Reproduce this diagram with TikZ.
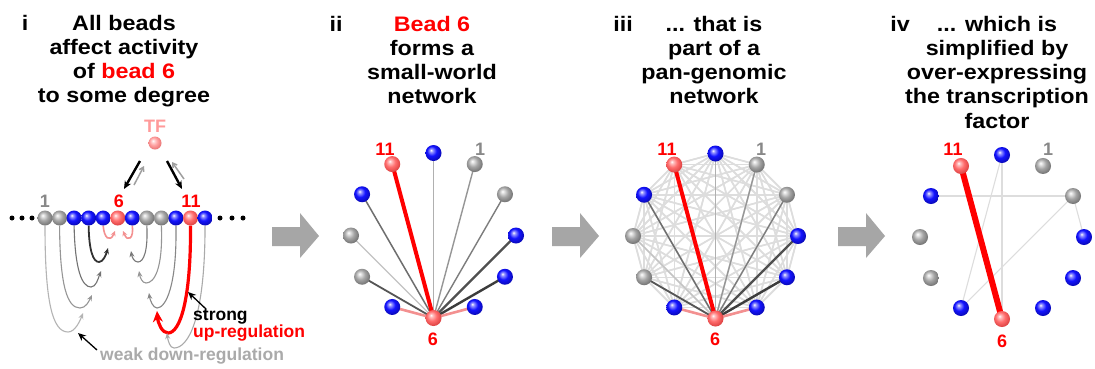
\documentclass[tikz,border=0pt]{standalone}
\usepackage{fontspec}
\setmainfont{Liberation Sans}
\newfontfamily\headfont{Liberation Sans}[FakeStretch=1.11]
\usetikzlibrary{arrows.meta,calc}
\definecolor{pinkc}{HTML}{F39090}
\definecolor{tfpink}{HTML}{FF9A9A}
\definecolor{labgray}{HTML}{888888}
\definecolor{weakgray}{HTML}{AAAAAA}
\definecolor{arrowgray}{HTML}{A6A6A6}
\definecolor{bgline}{HTML}{DDDDDD}
% bead colours
\definecolor{bA}{RGB}{150,150,255}
\definecolor{bB}{RGB}{20,20,255}
\definecolor{bC}{RGB}{10,10,190}
\definecolor{bD}{RGB}{10,10,120}
\definecolor{gA}{RGB}{225,225,225}
\definecolor{gB}{RGB}{165,165,165}
\definecolor{gC}{RGB}{120,120,120}
\definecolor{gD}{RGB}{90,90,90}
\definecolor{rA}{RGB}{255,190,190}
\definecolor{rB}{RGB}{255,110,110}
\definecolor{rC}{RGB}{225,70,70}
\definecolor{rD}{RGB}{170,40,40}
\definecolor{tA}{RGB}{255,215,215}
\definecolor{tB}{RGB}{255,160,160}
\definecolor{tC}{RGB}{235,120,120}
\definecolor{tD}{RGB}{200,90,90}
\pgfdeclareradialshading{bluebead}{\pgfqpoint{-8bp}{9bp}}{color(0bp)=(white); color(5bp)=(bA); color(15bp)=(bB); color(27bp)=(bC); color(38bp)=(bD); color(50bp)=(bD)}
\pgfdeclareradialshading{graybead}{\pgfqpoint{-8bp}{9bp}}{color(0bp)=(white); color(5bp)=(gA); color(15bp)=(gB); color(27bp)=(gC); color(38bp)=(gD); color(50bp)=(gD)}
\pgfdeclareradialshading{redbead}{\pgfqpoint{-8bp}{9bp}}{color(0bp)=(white); color(5bp)=(rA); color(15bp)=(rB); color(27bp)=(rC); color(38bp)=(rD); color(50bp)=(rD)}
\pgfdeclareradialshading{tfbead}{\pgfqpoint{-8bp}{9bp}}{color(0bp)=(white); color(5bp)=(tA); color(15bp)=(tB); color(27bp)=(tC); color(38bp)=(tD); color(50bp)=(tD)}
\pgfdeclarelayer{bg}
\pgfdeclarelayer{paper}
\pgfsetlayers{paper,bg,main}
\begin{document}
\begin{tikzpicture}[x=1pt,y=-1pt,
  head/.style={font=\headfont\bfseries\fontsize{21}{24.3}\selectfont, align=center, anchor=base, inner sep=0pt},
  numlab/.style={font=\bfseries\fontsize{18}{20}\selectfont, anchor=base, inner sep=0pt},
  annot/.style={font=\bfseries\fontsize{17.5}{20}\selectfont, anchor=base west, inner sep=0pt},
  ballbase/.style={circle, inner sep=0pt, minimum size=16pt, shade},
  bb/.style={ballbase, shading=bluebead},
  gb/.style={ballbase, shading=graybead},
  rb/.style={ballbase, shading=redbead},
  tfb/.style={ballbase, minimum size=13pt, shading=tfbead},
  dot/.style={circle, fill=black, inner sep=0pt, minimum size=5pt},
  arc/.style={line width=1.1pt, -{Stealth[length=6pt,width=5pt]}},
  annarrow/.style={line width=1.3pt, -{Stealth[length=8pt,width=7pt]}},
  tfarrow/.style={line width=2.4pt, -{Stealth[length=8pt,width=7pt]}},
  tfback/.style={line width=1.5pt, draw=gray!75, -{Straight Barb[length=4pt,width=5pt]}},
  blockarrow/.style={fill=arrowgray, draw=none},
  bgedge/.style={draw=bgline, line width=1.5pt},
  thinedge/.style={draw=bgline, line width=1.1pt}
]
\useasboundingbox (0,0) rectangle (1095,368);
\begin{pgfonlayer}{paper}
\fill[white] (0,0) rectangle (1095,368);
\end{pgfonlayer}

% ---------- headings (anchored at the baseline of the last line) ----------
\node[head] (ri) at (25,30) {i};
\node[head] (hi) at (124,102.9) {All beads\\affect activity\\of \textcolor{red}{bead 6}\\to some degree};
\node[head] (rii) at (336,31) {ii};
\node[head] (hii) at (432,103.9) {\textcolor{red}{Bead 6}\\forms a\\small-world\\network};
\node[head] (riii) at (623,31) {iii};
\node[head] (hiii) at (714,103.9) {... that is\\part of a\\pan-genomic\\network};
\node[head] (riv) at (900,31) {iv};
\node[head] (hiv) at (997,128.2) {... which is\\simplified by\\over-expressing\\the transcription\\factor};

% ---------- panel i ----------
\foreach \k/\s in {1/gb,2/gb,3/bb,4/bb,5/bb,6/rb,7/bb,8/gb,9/gb,10/bb,11/rb,12/bb}
  \node[\s, minimum size=15pt] (p\k) at ({45+(\k-1)*14.55},218) {};
\node[dot] (dl1) at (12,218) {};
\node[dot] (dl2) at (22,218) {};
\node[dot] (dl3) at (32,218) {};
\node[dot] (dr1) at (220,218) {};
\node[dot] (dr2) at (232,218) {};
\node[dot] (dr3) at (243,218) {};
\node[numlab, text=labgray] (l1) at (45,207) {1};
\node[numlab, text=red] (l6) at (119,207) {6};
\node[numlab, text=red] (l11) at (191,207) {11};

\node[tfb] (tf) at (155,143) {};
\node[numlab, text=tfpink] (tflab) at (155,132) {TF};
\coordinate (t1s) at (140,161); \coordinate (t1e) at (124,189);
\coordinate (t2s) at (134,185); \coordinate (t2e) at (144,166);
\coordinate (t3s) at (167,161); \coordinate (t3e) at (182,189);
\coordinate (t4s) at (184,179); \coordinate (t4e) at (172,162);
\draw[tfarrow] (t1s) -- (t1e);
\draw[tfback] (t2s) -- (t2e);
\draw[tfarrow] (t3s) -- (t3e);
\draw[tfback] (t4s) -- (t4e);

\begin{pgfonlayer}{bg}
\draw[arc, draw={rgb,255:red,180;green,180;blue,180}] (p1.south) .. controls (45,300) and (52,332) .. (68,332) .. controls (75,332) and (80,321) .. (83,313);
\draw[arc, draw={rgb,255:red,150;green,150;blue,150}] (p2.south) .. controls (60,285) and (67,308) .. (80,308) .. controls (86,308) and (89,301) .. (92,295);
\draw[arc, draw={rgb,255:red,115;green,115;blue,115}] (p3.south) .. controls (75,270) and (82,287) .. (91,287) .. controls (96,287) and (98,279) .. (101,271);
\draw[arc, line width=1.8pt, draw={rgb,255:red,50;green,50;blue,50}] (p4.south) .. controls (89,250) and (93,262) .. (99,262) .. controls (103,262) and (106,255) .. (108,248);
\draw[arc, line width=1.6pt, draw=pinkc, -{Stealth[length=5pt,width=5pt]}] (p5.south) .. controls (104,238) and (110,243) .. (115,231);
\draw[arc, line width=1.6pt, draw=pinkc, -{Stealth[length=5pt,width=5pt]}] (p7.south) .. controls (134,238) and (128,243) .. (123,231);
\draw[arc, draw={rgb,255:red,120;green,120;blue,120}] (p8.south) .. controls (148,250) and (144,262) .. (138,262) .. controls (134,262) and (132,257) .. (131,251);
\draw[arc, draw={rgb,255:red,150;green,150;blue,150}] (p9.south) .. controls (163,270) and (154,283) .. (146,283) .. controls (142,283) and (140,277) .. (139,271);
\draw[arc, draw={rgb,255:red,135;green,135;blue,135}] (p10.south) .. controls (177,285) and (166,308) .. (157,308) .. controls (153,308) and (150,300) .. (149,293);
\draw[line width=3.2pt, draw=red, -{Stealth[length=11pt,width=10pt]}] (p11.south) .. controls (191,300) and (180,333) .. (168,333) .. controls (162,333) and (158,323) .. (157,311);
\draw[arc, draw={rgb,255:red,170;green,170;blue,170}] (p12.south) .. controls (205,320) and (188,348) .. (174,348) .. controls (170,348) and (168,341) .. (167,333);
\end{pgfonlayer}

\node[annot] (strong) at (193,320) {strong};
\node[annot, text=red] (upreg) at (193,337) {up-regulation};
\node[annot, text=weakgray] (weak) at (100,360) {weak down-regulation};
\coordinate (sa) at (206,309); \coordinate (st) at (188,292);
\draw[annarrow] (sa) -- (st);
\coordinate (wa) at (97,350); \coordinate (wt) at (78,333);
\draw[annarrow] (wa) -- (wt);

% ---------- block arrows ----------
\foreach \x in {272,552,838}
  \fill[blockarrow] (\x,227) -- (\x+28,227) -- (\x+28,213) -- (\x+47,236) -- (\x+28,258) -- (\x+28,246) -- (\x,246) -- cycle;

% ---------- panels ii, iii, iv: beads ----------
\foreach \k/\s in {1/gb,2/gb,3/bb,4/bb,5/bb,6/rb,7/bb,8/gb,9/gb,10/bb,11/rb,12/bb} {
  \node[\s] (a\k) at ($(433.5,235.5)+({30*\k-90}:82.5)$) {};
  \node[\s] (b\k) at ($(715.5,236)+({30*\k-90}:82.5)$) {};
  \node[\s] (c\k) at ($(1002,237)+({30*\k-90}:82)$) {};
}
\node[numlab, text=red] (la11) at (385,155) {11};
\node[numlab, text=labgray] (la1) at (480,155) {1};
\node[numlab, text=red] (la6) at (433,345) {6};
\node[numlab, text=red] (lb11) at (667,155) {11};
\node[numlab, text=labgray] (lb1) at (761,155) {1};
\node[numlab, text=red] (lb6) at (715,345) {6};
\node[numlab, text=red] (lc11) at (953,155) {11};
\node[numlab, text=labgray] (lc1) at (1048,155) {1};
\node[numlab, text=red] (lc6) at (1002,347) {6};

\begin{pgfonlayer}{bg}
  \foreach \i in {1,...,12}
    \foreach \j in {1,...,12}
      \draw[bgedge] (b\i.center) -- (b\j.center);
  \foreach \k/\c/\w in {12/{rgb,255:red,176;green,176;blue,176}/1.4,
                        1/{rgb,255:red,150;green,150;blue,150}/1.4,
                        2/{rgb,255:red,125;green,125;blue,125}/1.4,
                        3/{rgb,255:red,80;green,80;blue,80}/2.4,
                        4/{rgb,255:red,60;green,60;blue,60}/2.4,
                        5/pinkc/2.6,
                        7/pinkc/2.6,
                        8/{rgb,255:red,85;green,85;blue,85}/1.8,
                        9/{rgb,255:red,195;green,195;blue,195}/1.4,
                        10/{rgb,255:red,110;green,110;blue,110}/1.5,
                        11/red/4} {
    \draw[draw=\c, line width=\w] (a6.center) -- (a\k.center);
    \draw[draw=\c, line width=\w] (b6.center) -- (b\k.center);
  }
  \draw[thinedge] (c10.center) -- (c2.center);
  \draw[thinedge] (c12.center) -- (c7.center);
  \draw[thinedge] (c12.center) -- (c6.center);
  \draw[thinedge] (c2.center) -- (c7.center);
  \draw[thinedge] (c2.center) -- (c3.center);
  \draw[draw=red, line width=6pt] (c6.center) -- (c11.center);
\end{pgfonlayer}
\end{tikzpicture}
\end{document}
